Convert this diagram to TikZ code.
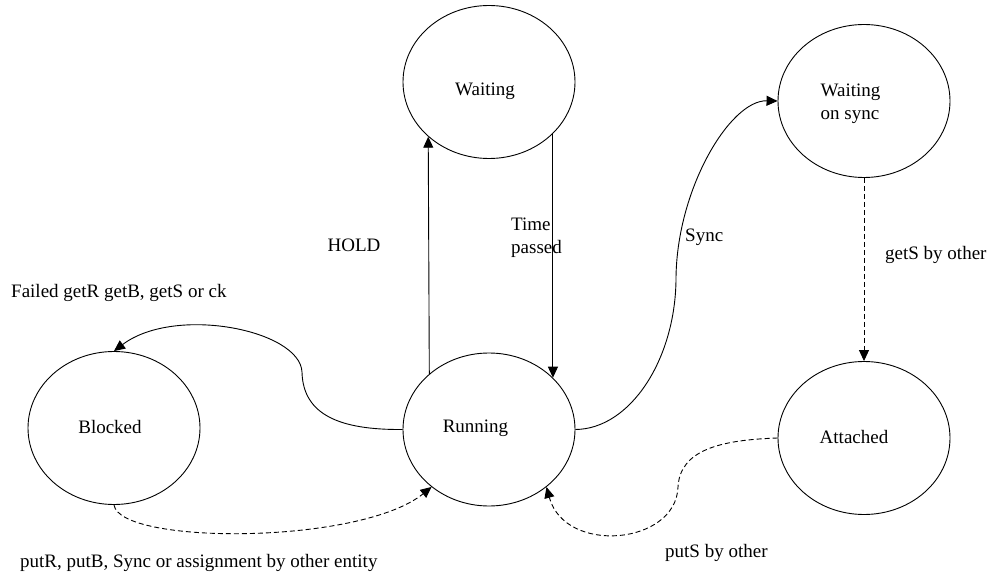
\documentclass[tikz,border=0pt]{standalone}
\usepackage{fontspec}
\setmainfont{Liberation Serif}
\usetikzlibrary{shapes.geometric,arrows.meta}
\begin{document}
\begin{tikzpicture}[x=1pt,y=-1pt,
  every node/.style={font=\fontsize{19}{23}\selectfont},
  state/.style={draw, ellipse, line width=0.9pt, minimum width=172pt,
    minimum height=153pt, inner sep=0pt},
  tr/.style={line width=0.9pt, -{Triangle[length=11pt,width=10pt]}},
  trdash/.style={tr, dash pattern=on 5pt off 3pt},
  lbl/.style={inner sep=0pt}]
\useasboundingbox (0,0) rectangle (991,577);

% states
\node[state, label={[xshift=-4pt,yshift=-9pt]center:Waiting}] (wait) at (489,82) {};
\node[state, label={[xshift=-13.5pt,yshift=-2.5pt,align=left]center:{Waiting\\on sync}}] (sync) at (864,101) {};
\node[state, label={[xshift=-10pt,yshift=1pt]center:Attached}] (att) at (864,438) {};
\node[state, label={[xshift=-4pt,yshift=1pt]center:Blocked}] (blk) at (114,428) {};
\node[state, label={[xshift=-13.5pt,yshift=1.5pt]center:Running}] (run) at (489,429.5) {};

% transitions
\draw[tr] (run.137.6) -- (wait.222.4);
\draw[tr] (wait.-39.6) -- (run.39.6);
\draw[tr] (run.west) .. controls (340,430) and (303,415) .. (302,372)
  .. controls (300,330) and (175,305) .. (blk.north);
\draw[trdash] (blk.south) .. controls (120,545) and (360,545) .. (run.-135);
\draw[tr] (run.east) .. controls (630,429) and (675,360) .. (676,280)
  .. controls (676,190) and (730,100) .. (sync.west);
\draw[trdash] (sync.south) -- (att.north);
\draw[trdash] (att.west) .. controls (720,440) and (680,450) .. (678,487)
  .. controls (676,545) and (565,555) .. (run.-45);

% transition labels
\node[lbl] (hold) at (354,245) {HOLD};
\node[lbl, anchor=west, align=left] (tp) at (511,238) {Time\\passed};
\node[lbl, anchor=west] (synclbl) at (685,237) {Sync};
\node[lbl, anchor=west] (gets) at (885,255) {getS by other};
\node[lbl, anchor=west] (failed) at (11,293) {Failed getR getB, getS or ck};
\node[lbl, anchor=west] (putr) at (20,563) {putR, putB, Sync or assignment by other entity};
\node[lbl, anchor=west] (puts) at (665,553) {putS by other};
\end{tikzpicture}
\end{document}
